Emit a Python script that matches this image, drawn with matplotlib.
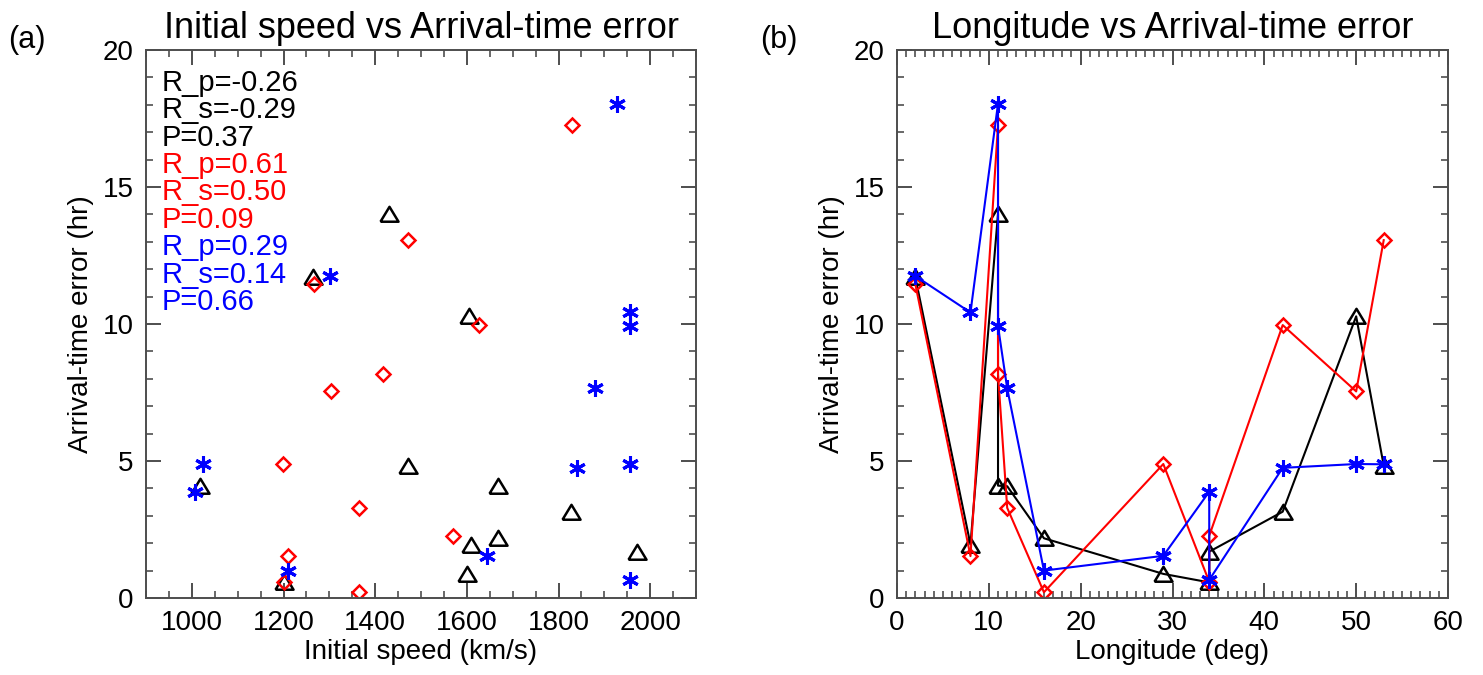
import matplotlib
matplotlib.use("Agg")
import matplotlib.pyplot as plt
import numpy as np

plt.rcParams['font.family'] = ['Liberation Sans', 'DejaVu Sans']

# longitude (deg), sorted in the order the lines are drawn
longitude = [2, 8, 11, 11, 12, 16, 29, 34, 34, 42, 50, 53]

# black (triangles)
speed_k = [1265, 1609, 1431, 1018, 1667, 1667, 1600, 1201, 1972, 1827, 1605, 1471]
err_k = [11.70, 1.95, 14.03, 4.10, 4.08, 2.18, 0.88, 0.57, 1.69, 3.15, 10.28, 4.83]

# red (diamonds)
speed_r = [1267, 1209, 1830, 1418, 1365, 1365, 1198, 1201, 1570, 1627, 1304, 1471]
err_r = [11.45, 1.53, 17.27, 8.17, 3.29, 0.21, 4.89, 0.59, 2.27, 9.96, 7.54, 13.06]

# blue (asterisks)
speed_b = [1301, 1955, 1927, 1955, 1880, 1209, 1645, 1007, 1956, 1840, 1024, 1955]
err_b = [11.75, 10.42, 18.04, 9.92, 7.65, 1.00, 1.54, 3.88, 0.66, 4.75, 4.89, 4.88]

stats_k = ['R_p=-0.26', 'R_s=-0.29', 'P=0.37']
stats_r = ['R_p=0.61', 'R_s=0.50', 'P=0.09']
stats_b = ['R_p=0.29', 'R_s=0.14', 'P=0.66']

tri = [(-1.0, -0.8), (1.0, -0.8), (0.0, 0.85), (-1.0, -0.8)]
series = [
    (speed_k, err_k, 'black', dict(marker=tri, ms=13, mfc='none', mew=1.8)),
    (speed_r, err_r, 'red', dict(marker='D', ms=7.5, mfc='none', mew=1.8)),
    (speed_b, err_b, 'blue', dict(marker=(6, 2, 0), ms=12, mew=2.2)),
]

fig = plt.figure(figsize=(14.83, 6.75), dpi=100)
ax1 = fig.add_axes([146 / 1483, 1 - 598 / 675, 550 / 1483, 548 / 675])
ax2 = fig.add_axes([897 / 1483, 1 - 598 / 675, 551 / 1483, 548 / 675])


def style_axes(ax, xlim, xminor):
    ax.set_xlim(*xlim)
    ax.set_ylim(0, 20)
    ax.set_xticks(np.arange(xlim[0], xlim[1] + 1, xminor), minor=True)
    ax.set_yticks([0, 5, 10, 15, 20])
    ax.set_yticks(np.arange(0, 21, 1), minor=True)
    ax.tick_params(which='both', direction='in', top=True, right=True,
                   labelsize=20, color='0.25')
    ax.tick_params(which='major', length=11, width=1.3, pad=9)
    ax.tick_params(which='minor', length=5, width=1.1)
    for s in ax.spines.values():
        s.set_color('0.3')
        s.set_linewidth(1.4)
    ax.set_ylabel('Arrival-time error (hr)', fontsize=20, labelpad=6)


# (a) initial speed
for sp, er, c, mk in series:
    ax1.plot(sp, er, ls='none', color=c, **mk)
style_axes(ax1, (900, 2100), 50)
ax1.set_xticks([1000, 1200, 1400, 1600, 1800, 2000])
ax1.set_xlabel('Initial speed (km/s)', fontsize=20, labelpad=2)
ax1.set_title('Initial speed vs Arrival-time error', fontsize=26, pad=9)

ypos = 18.8
for lines, c in [(stats_k, 'black'), (stats_r, 'red'), (stats_b, 'blue')]:
    for t in lines:
        ax1.text(933, ypos, t, color=c, fontsize=21, va='center', ha='left')
        ypos -= 1.0

# (b) longitude
for sp, er, c, mk in series:
    ax2.plot(longitude, er, color=c, lw=1.5, **mk)
style_axes(ax2, (0, 60), 1)
ax2.set_xticks([0, 10, 20, 30, 40, 50, 60])
ax2.set_xlabel('Longitude (deg)', fontsize=20, labelpad=2)
ax2.set_title('Longitude vs Arrival-time error', fontsize=26, pad=9)

fig.text(8 / 1483, 1 - 40 / 675, '(a)', fontsize=22, va='center', ha='left')
fig.text(760 / 1483, 1 - 40 / 675, '(b)', fontsize=22, va='center', ha='left')

fig.savefig('out.png', dpi=100)
